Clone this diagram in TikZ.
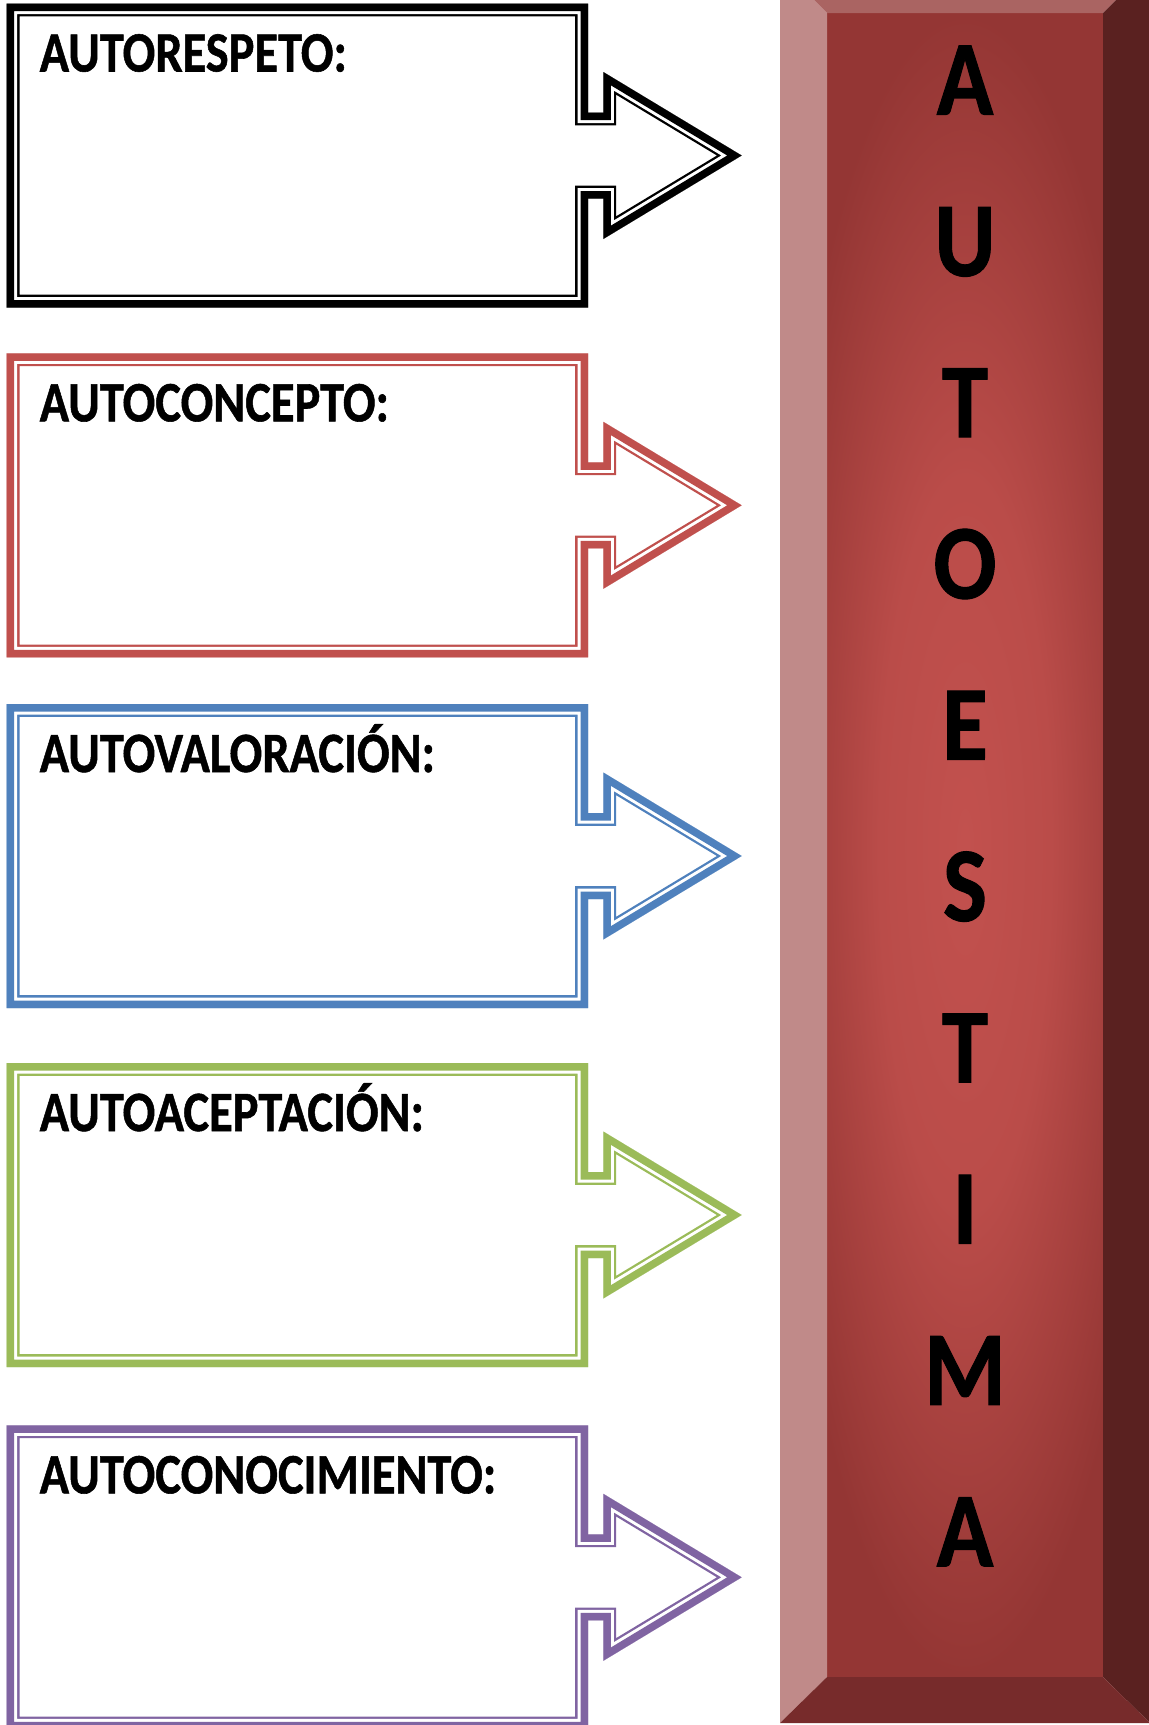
\documentclass[tikz,border=0pt]{standalone}
\usepackage{fontspec}
\setmainfont{Carlito}
\newfontfamily\heavyfont{Carlito}[BoldFeatures={FakeBold=1}]
\definecolor{cBlack}{HTML}{000000}
\definecolor{cRed}{HTML}{C0504D}
\definecolor{cBlue}{HTML}{4F81BD}
\definecolor{cGreen}{HTML}{9BBB59}
\definecolor{cPurple}{HTML}{8064A2}
\definecolor{faceC}{HTML}{C2514E}
\definecolor{faceM}{HTML}{BA4C49}
\definecolor{faceE}{HTML}{943634}
\definecolor{bevL}{HTML}{C08A89}
\definecolor{bevT}{HTML}{AA6462}
\definecolor{bevR}{HTML}{5A2120}
\definecolor{bevB}{HTML}{772B2B}
\pgfdeclareradialshading{facegrad}{\pgfpoint{0bp}{0bp}}{color(0bp)=(faceC); color(11bp)=(faceM); color(25bp)=(faceE); color(50bp)=(faceE)}
\tikzset{
  lbl/.style={anchor=base west, inner sep=0pt, text=black,
    font=\heavyfont\fontsize{28.5}{30}\selectfont\bfseries},
  colletter/.style={anchor=base, inner sep=0pt, text=black,
    font=\heavyfont\fontsize{53}{60}\selectfont\bfseries},
}
% #1 = centre y (px), #2 = colour
\newcommand\calloutshape[2]{%
  \def\cpath{(6.7,{#1-152}) -- (588,{#1-152}) -- (588,{#1-43}) -- (603.3,{#1-43})
    -- (603.3,{#1-83.5}) -- (741.7,#1) -- (603.3,{#1+83.5}) -- (603.3,{#1+43})
    -- (588,{#1+43}) -- (588,{#1+152}) -- (6.7,{#1+152}) -- cycle}%
  \begin{scope}
    \clip \cpath;
    \draw[#2, line width=12.8pt, line join=miter] \cpath;
    \draw[white, line width=10.5pt, line join=miter] \cpath;
    \draw[#2, line width=7.5pt, line join=miter] \cpath;
  \end{scope}%
}
\begin{document}
\begin{tikzpicture}[x=0.5pt, y=-0.5pt]
\useasboundingbox (0,0) rectangle (1149,1725);
\clip (0,0) rectangle (1149,1725);
\fill[white] (0,0) rectangle (1149,1725);

% callouts
\calloutshape{155.5}{cBlack}
\calloutshape{505.3}{cRed}
\calloutshape{856}{cBlue}
\calloutshape{1215}{cGreen}
\calloutshape{1577.3}{cPurple}

\node[lbl] (t1) at (39.3,{155.5-152+68}) {\scalebox{0.85}[1]{AUTORESPETO:}};
\node[lbl] (t2) at (39.3,{505.3-152+68}) {\scalebox{0.85}[1]{AUTOCONCEPTO:}};
\node[lbl] (t3) at (39.3,{856-152+68}) {\scalebox{0.85}[1]{AUTOVALORACIÓN:}};
\node[lbl] (t4) at (39.3,{1215-152+68}) {\scalebox{0.85}[1]{AUTOACEPTACIÓN:}};
\node[lbl] (t5) at (39.3,{1577.3-152+68}) {\scalebox{0.85}[1]{AUTOCONOCIMIENTO:}};

% bevelled column
\begin{scope}
  \clip (827,13) rectangle (1103,1677);
  \shade[shading=facegrad] (770,13) rectangle (1160,1677);
\end{scope}
\fill[bevL] (780,-34) -- (827,13) -- (827,1677) -- (780,1723) -- cycle;
\fill[bevT] (780,-34) -- (1150,-34) -- (1103,13) -- (827,13) -- cycle;
\fill[bevR] (1150,-34) -- (1150,1723) -- (1103,1677) -- (1103,13) -- cycle;
\fill[bevB] (780,1723) -- (1150,1723) -- (1103,1677) -- (827,1677) -- cycle;

\foreach \L [count=\i] in {A,U,T,O,E,S,T,I,M,A} {
  \node[colletter] (l\i) at (965,{80.3+161.3*(\i-1)+34.2}) {\scalebox{0.88}[1]{\L}};
}
\end{tikzpicture}
\end{document}
